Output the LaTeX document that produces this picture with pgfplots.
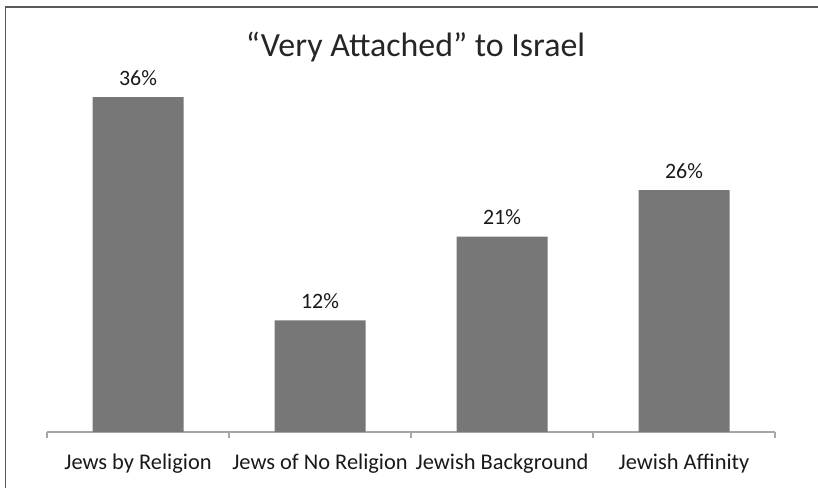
\documentclass[border=0pt]{standalone}
\usepackage{pgfplots}
\pgfplotsset{compat=1.18}
\usepackage{fontspec}
\setmainfont{Carlito}
\definecolor{barc}{HTML}{777777}
\definecolor{axc}{HTML}{A6A6A6}
\definecolor{framec}{HTML}{5A5A5A}
\begin{document}
\begin{tikzpicture}[x=1bp,y=1bp]
\path[use as bounding box] (0,0) rectangle (818,488);
\draw[framec, line width=1.6bp] (5.5,0) -- (5.5,481) -- (818,481);
\node[anchor=base, font=\fontsize{34}{40}\selectfont, text=black!85] at (415.5,431) {“Very Attached” to Israel};
\begin{axis}[
  at={(47bp,56bp)}, anchor=south west,
  scale only axis, width=728bp, height=372bp,
  xmin=0, xmax=4, ymin=0, ymax=40,
  axis y line=none,
  axis x line*=bottom,
  x axis line style={axc, line width=1.2bp, -},
  xtick={0.5,1.5,2.5,3.5},
  xticklabels={Jews by Religion, Jews of No Religion, Jewish Background, Jewish Affinity},
  major tick length=0pt,
  extra x ticks={0,1,2,3,4},
  extra x tick labels={},
  extra x tick style={major tick length=6bp, tick align=outside, tick style={axc, line width=1.2bp}},
  xticklabel style={font=\fontsize{22.5}{26}\selectfont, text=black!90, anchor=base, yshift=-38bp},
  /pgf/number format/assume math mode=true,
  nodes near coords={\pgfmathprintnumber{\pgfplotspointmeta}\%},
  nodes near coords style={font=\fontsize{22}{26}\selectfont, text=black!90, anchor=base, yshift=12bp},
  clip=false,
]
\addplot[ybar, bar width=91bp, fill=barc, draw=none] coordinates {(0.5,36) (1.5,12) (2.5,21) (3.5,26)};
\end{axis}
\end{tikzpicture}
\end{document}
